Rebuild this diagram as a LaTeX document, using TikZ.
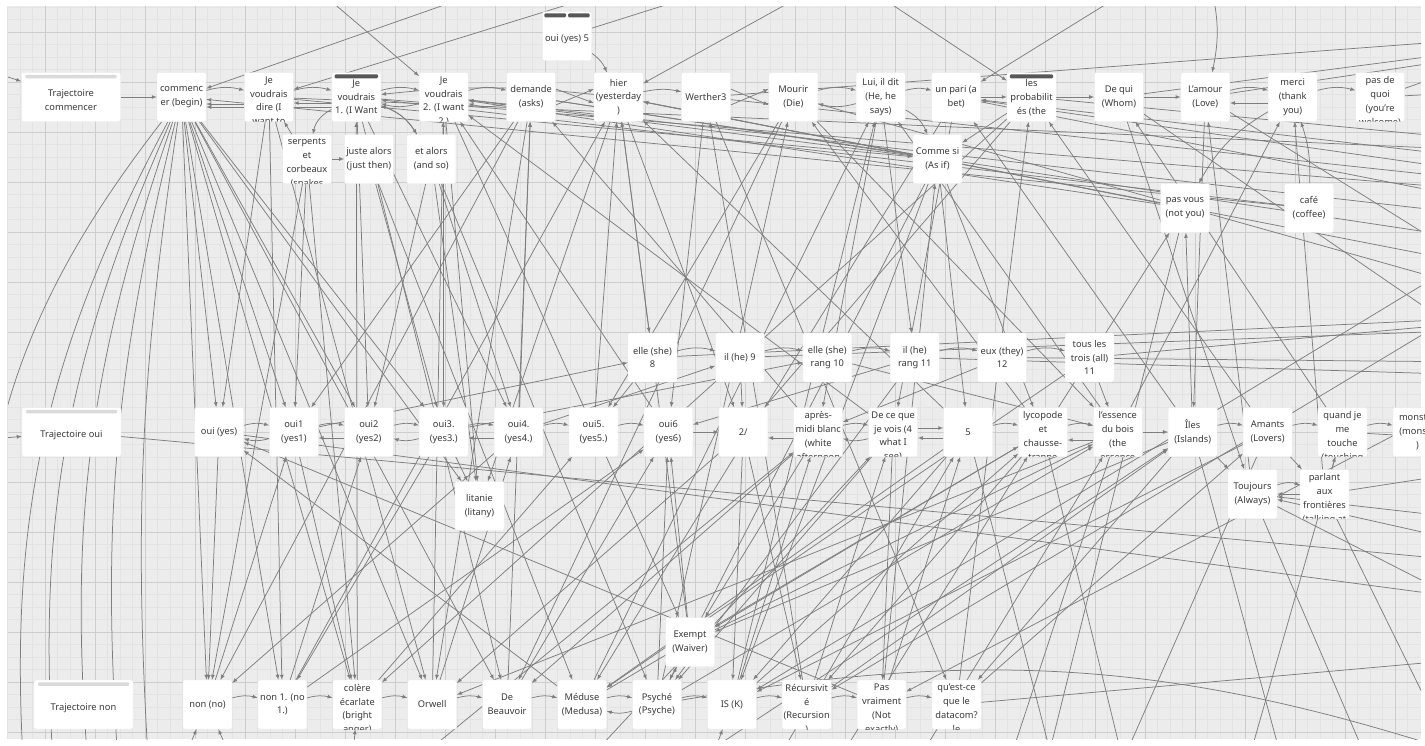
\documentclass[tikz,border=0pt]{standalone}
\usepackage{fontspec}
\setmainfont{Noto Sans}
\usetikzlibrary{arrows,shapes,positioning}
\definecolor{canvas}{HTML}{ECECEC}
\definecolor{gridmajor}{HTML}{CDCDCD}
\definecolor{gridminor}{HTML}{E3E3E3}
\definecolor{linkgray}{HTML}{7E7E7E}
\definecolor{textgray}{HTML}{3A3A3A}
\definecolor{tagdark}{HTML}{575757}
\definecolor{taglight}{HTML}{DADADA}
\pgfdeclarelayer{canvas}
\pgfdeclarelayer{links}
\pgfsetlayers{canvas,links,main}
\tikzstyle{link} = [draw=linkgray, line width=0.75pt, ->, >=latex]
\tikzstyle{psgtext} = [shape=rectangle, draw=none, fill=none, minimum width=0pt, minimum height=0pt, align=center, inner sep=0pt, text=textgray, font=\fontsize{9.3}{13.8}\selectfont]
\tikzstyle{box} = [rectangle, rounded corners=2pt, minimum width=49pt, minimum height=49pt, inner sep=0pt, draw=black!8, fill=white]
\tikzstyle{wide} = [minimum width=99pt]
\tikzstyle{tagbar} = [fill=tagdark, rounded corners=1.2pt]
\tikzstyle{lighttag} = [fill=taglight, rounded corners=1.2pt]
\tikzset{
  passage/.style={box, path picture={\node[psgtext, anchor=center] at (path picture bounding box.center) {#1};}},
  tagpsg/.style={box, path picture={\node[psgtext, anchor=center] at ([yshift=-3.5pt]path picture bounding box.center) {#1};}},
  longpsg/.style={box, path picture={\node[psgtext, anchor=north] at ([yshift=-4pt]path picture bounding box.north) {#1};}},
  taglong/.style={box, path picture={\node[psgtext, anchor=north] at ([yshift=-7pt]path picture bounding box.north) {#1};}}
}

\begin{document}
\begin{tikzpicture}[x=1pt, y=-1pt]
\useasboundingbox (0,0) rectangle (1425,745);

% free ends of links leaving the view
\coordinate (t1) at (318,-10);
\coordinate (t2) at (487,-10);
\coordinate (t3) at (615,-10);
\coordinate (t4) at (713,-10);
\coordinate (t5) at (812,-10);
\coordinate (t6) at (870,-10);
\coordinate (t7) at (1129,-10);
\coordinate (t8) at (1212,-10);
\coordinate (l1) at (-30,65);
\coordinate (l2) at (-30,441);
\coordinate (r1) at (1480,39);
\coordinate (r2) at (1480,50);
\coordinate (r3) at (1480,56);
\coordinate (r4) at (1480,62);
\coordinate (r5) at (1480,92);
\coordinate (r6) at (1480,150);
\coordinate (r7) at (1480,190);
\coordinate (r8) at (1480,215);
\coordinate (r9) at (1480,240);
\coordinate (r10) at (1480,265);
\coordinate (r11) at (1480,180);
\coordinate (r12) at (1480,290);
\coordinate (r13) at (1480,200);
\coordinate (r14) at (1480,140);
\coordinate (r15) at (1480,158);
\coordinate (r16) at (1480,172);
\coordinate (r17) at (1480,345);
\coordinate (r18) at (1480,268);
\coordinate (r19) at (1480,318);
\coordinate (r20) at (1480,330);
\coordinate (r21) at (1480,322);
\coordinate (r22) at (1480,362);
\coordinate (r23) at (1480,375);
\coordinate (r24) at (1480,562);
\coordinate (r25) at (1480,610);
\coordinate (r26) at (1480,470);
\coordinate (r27) at (1480,520);
\coordinate (r28) at (1480,545);
\coordinate (r29) at (1480,440);
\coordinate (r30) at (1480,600);
\coordinate (r31) at (1480,760);
\coordinate (r32) at (1480,658);
\coordinate (r33) at (1480,300);
\coordinate (r34) at (1480,390);
\coordinate (r35) at (1480,455);
\coordinate (r36) at (1480,250);
\coordinate (b1) at (1130,790);
\coordinate (b2) at (1000,790);
\coordinate (b3) at (1290,790);
\coordinate (b4) at (1110,790);
\coordinate (b5) at (1240,790);
\coordinate (b6) at (1380,790);
\coordinate (b7) at (1470,790);
\coordinate (b8) at (1060,790);
\coordinate (b10) at (1040,790);
\coordinate (b11) at (820,790);
\coordinate (b12) at (900,790);
\coordinate (b13) at (560,790);
\coordinate (b14) at (380,790);
\coordinate (b15) at (650,790);
\coordinate (b16) at (245,790);
\coordinate (b17) at (170,790);
\coordinate (b18) at (350,790);
\coordinate (b19) at (700,790);
\coordinate (b20) at (760,790);
\coordinate (f1) at (150,790);
\coordinate (f2) at (120,790);
\coordinate (f3) at (90,790);
\coordinate (f4) at (55,790);
\coordinate (f5) at (25,790);
\coordinate (f6) at (-25,640);

% passages, row "commencer"
\node (tcom) [tagpsg={Trajectoire\\commencer}, wide] at (71,97) {};
\node (cmc) [passage={commenc\\er (begin)}] at (181.5,97) {};
\node (jvd) [longpsg={Je\\voudrais\\dire (I\\want to}, right=38pt of cmc] {};
\node (jv1) [taglong={Je\\voudrais\\1. (I Want}, right=38pt of jvd] {};
\node (jv2) [longpsg={Je\\voudrais\\2. (I want\\2.)}, right=38pt of jv1] {};
\node (dmd) [passage={demande\\(asks)}, right=38pt of jv2] {};
\node (hier) [passage={hier\\(yesterday\\)}, right=38pt of dmd] {};
\node (wer) [passage={Werther3}, right=38pt of hier] {};
\node (mou) [passage={Mourir\\(Die)}, right=38pt of wer] {};
\node (lui) [passage={Lui, il dit\\(He, he\\says)}, right=38pt of mou] {};
\node (pari) [passage={un pari (a\\bet)}, right=26pt of lui] {};
\node (prob) [taglong={les\\probabilit\\és (the}, right=26pt of pari] {};
\node (dequi) [passage={De qui\\(Whom)}, right=38pt of prob] {};
\node (amour) [passage={L'amour\\(Love)}, right=37pt of dequi] {};
\node (merci) [passage={merci\\(thank\\you)}, right=38pt of amour] {};
\node (pdq) [longpsg={pas de\\quoi\\(you're\\welcome)}, right=38pt of merci] {};

\node (oui5) [tagpsg={oui (yes) 5}] at (567,36) {};
\node (spt) [longpsg={serpents\\et\\corbeaux\\(snakes}] at (307,159) {};
\node (juste) [passage={juste alors\\(just then)}, right=12.5pt of spt] {};
\node (etal) [passage={et alors\\(and so)}, right=13pt of juste] {};
\node (comme) [passage={Comme si\\(As if)}] at (937.5,159) {};
\node (pasv) [passage={pas vous\\(not you)}] at (1185,208) {};
\node (cafe) [passage={café\\(coffee)}] at (1309,208) {};

% middle row
\node (elle8) [passage={elle (she)\\8}] at (652.5,357.5) {};
\node (il9) [passage={il (he) 9}, right=38pt of elle8] {};
\node (elle10) [passage={elle (she)\\rang 10}, right=38pt of il9] {};
\node (il11) [passage={il (he)\\rang 11}, right=38pt of elle10] {};
\node (eux12) [passage={eux (they)\\12}, right=38pt of il11] {};
\node (tous) [passage={tous les\\trois (all)\\11}, right=38pt of eux12] {};

% row "oui"
\node (toui) [tagpsg={Trajectoire oui}, wide] at (71.5,432) {};
\node (oui) [passage={oui (yes)}] at (219,432) {};
\node (oui1) [passage={oui1\\(yes1)}, right=25.5pt of oui] {};
\node (oui2) [passage={oui2\\(yes2)}, right=25.5pt of oui1] {};
\node (oui3) [passage={oui3.\\(yes3.)}, right=25.5pt of oui2] {};
\node (oui4) [passage={oui4.\\(yes4.)}, right=25.5pt of oui3] {};
\node (ouiv) [passage={oui5.\\(yes5.)}, right=25.5pt of oui4] {};
\node (oui6) [passage={oui6\\(yes6)}, right=25.5pt of ouiv] {};
\node (deux) [passage={2/}, right=25.5pt of oui6] {};
\node (apres) [longpsg={après-\\midi blanc\\(white\\afternoon}, right=25.5pt of deux] {};
\node (dece) [longpsg={De ce que\\je vois (4\\what I\\see)}, right=25.5pt of apres] {};
\node (cinq) [passage={5}, right=25.5pt of dece] {};
\node (lyco) [longpsg={lycopode\\et\\chausse-\\trappe}, right=25.5pt of cinq] {};
\node (ess) [longpsg={l'essence\\du bois\\(the\\essence}, right=25.5pt of lyco] {};
\node (iles) [passage={Îles\\(Islands)}, right=25.5pt of ess] {};
\node (amants) [passage={Amants\\(Lovers)}, right=25.5pt of iles] {};
\node (quand) [longpsg={quand je\\me\\touche\\(touching}, right=25.5pt of amants] {};
\node (monstre) [passage={monstre\\(monste\\)}, right=25.5pt of quand] {};

\node (litanie) [passage={litanie\\(litany)}] at (479.5,506) {};
\node (toujours) [passage={Toujours\\(Always)}] at (1252.5,494) {};
\node (parlant) [longpsg={parlant\\aux\\frontières\\(talking at}] at (1324.5,494) {};
\node (exempt) [passage={Exempt\\(Waiver)}] at (690,642) {};

% row "non"
\node (tnon) [tagpsg={Trajectoire non}, wide] at (83.5,704.5) {};
\node (non) [passage={non (no)}] at (207.5,704.5) {};
\node (non1) [passage={non 1. (no\\1.)}, right=25.5pt of non] {};
\node (colere) [longpsg={colère\\écarlate\\(bright\\anger)}, right=25.5pt of non1] {};
\node (orwell) [passage={Orwell}, right=25.5pt of colere] {};
\node (beau) [passage={De\\Beauvoir}, right=25.5pt of orwell] {};
\node (meduse) [passage={Méduse\\(Medusa)}, right=25.5pt of beau] {};
\node (psyche) [passage={Psyché\\(Psyche)}, right=25.5pt of meduse] {};
\node (isk) [passage={IS (K)}, right=25.5pt of psyche] {};
\node (recu) [longpsg={Récursivit\\é\\(Recursion\\)}, right=25.5pt of isk] {};
\node (pasvr) [longpsg={Pas\\vraiment\\(Not\\exactly)}, right=25.5pt of recu] {};
\node (quest) [longpsg={qu'est-ce\\que le\\datacom?\\le}, right=25.5pt of pasvr] {};

% tags
\fill [lighttag] ([xshift=4pt,yshift=-2.5pt]tcom.north west) rectangle ([xshift=-4pt,yshift=-6pt]tcom.north east);
\fill [lighttag] ([xshift=4pt,yshift=-2.5pt]toui.north west) rectangle ([xshift=-4pt,yshift=-6pt]toui.north east);
\fill [lighttag] ([xshift=4pt,yshift=-2.5pt]tnon.north west) rectangle ([xshift=-4pt,yshift=-6pt]tnon.north east);
\fill [tagbar] ([xshift=3pt,yshift=-2pt]jv1.north west) rectangle ([xshift=-3pt,yshift=-6pt]jv1.north east);
\fill [tagbar] ([xshift=3pt,yshift=-2pt]prob.north west) rectangle ([xshift=-3pt,yshift=-6pt]prob.north east);
\fill [tagbar] ([xshift=2pt,yshift=-2pt]oui5.north west) rectangle ([xshift=-1pt,yshift=-6pt]oui5.north);
\fill [tagbar] ([xshift=1pt,yshift=-2pt]oui5.north) rectangle ([xshift=-2pt,yshift=-6pt]oui5.north east);

% grid
\begin{pgfonlayer}{canvas}
\fill [white] (0,0) rectangle (1425,745);
\fill [canvas] (8,6) rectangle (1421,739);
\foreach \gx in {0,...,113} \draw [gridminor, line width=0.5pt] ({-5+12.5*\gx},6) -- ({-5+12.5*\gx},739);
\foreach \gy in {0,...,58} \draw [gridminor, line width=0.5pt] (8,{7+12.5*\gy}) -- (1421,{7+12.5*\gy});
\foreach \gx in {0,...,27} \draw [gridmajor, line width=0.6pt] ({45+50*\gx},6) -- ({45+50*\gx},739);
\foreach \gy in {0,...,14} \draw [gridmajor, line width=0.6pt] (8,{32+50*\gy}) -- (1421,{32+50*\gy});
\end{pgfonlayer}

\begin{pgfonlayer}{links}
\begin{scope}
\clip (8,6) rectangle (1421,739);
% top and left ends
\draw [link] (t1) -- (jv2);
\draw [link] (t2) -- (cmc);
\draw [link] (t3) -- (jvd);
\draw [link] (oui5) -- (t4);
\draw [link] (t5) -- (hier);
\draw [link] (t6) -- (prob);
\draw [link] (t7) -- (pari);
\draw [link] (t8) to[bend left=12] (amour);
\draw [link] (l1) -- (tcom);
\draw [link] (l2) -- (toui);
\draw [link] (tcom) -- (cmc);
\draw [link] (oui5) to[bend left=15] (hier);
\draw [link] (hier) to[bend right=6] (jv1);
\draw [link] (wer) -- (r1);
\draw [link] (dequi) -- (r2);
\draw [link] (amour) -- (r3);
\draw [link] (pdq) -- (r4);

% row commencer
\draw [link] (cmc) to[bend left=15] (jvd);
\draw [link] ([yshift=-7pt]jvd.west) -- ([yshift=-7pt]cmc.east);
\draw [link] ([yshift=-10pt]jv1.west) -- ([yshift=-10pt]cmc.east);
\draw [link] (jvd) to[bend left=15] (jv1);
\draw [link] ([yshift=-6pt]jv1.west) -- ([yshift=-6pt]jvd.east);
\draw [link] (jv1) to[bend left=15] (jv2);
\draw [link] (jv2) to[bend left=15] (jv1);
\draw [link] (jv2) to[bend left=15] (dmd);
\draw [link] (dmd) to[bend left=15] (jv2);
\draw [link] ([yshift=8pt]dmd.east) -- ([yshift=-6pt]hier.west);
\draw [link] ([yshift=-8pt]dmd.east) -- ([yshift=8pt]hier.west);
\draw [link] (hier) to[bend left=12] (wer);
\draw [link] ([yshift=8pt]wer.east) -- ([yshift=-8pt]mou.west);
\draw [link] ([yshift=-8pt]wer.east) -- ([yshift=8pt]mou.west);
\draw [link] (mou) to[bend left=15] (lui);
\draw [link] (lui) to[bend left=15] (mou);
\draw [link] (lui) to[bend left=15] (pari);
\draw [link] (pari) -- (prob);
\draw [link] (prob) -- (dequi);
\draw [link] (dequi) -- (amour);
\draw [link] (amour) to[bend left=15] (merci);
\draw [link] ([yshift=-6pt]merci.west) -- ([yshift=-6pt]amour.east);
\draw [link] (merci) to[bend left=15] (pdq);
\draw [link] (pdq) -- (r5);

% long links across the top band
\draw [link] (comme) -- (jv2);
\draw [link] (comme) -- (hier);
\draw [link] (jvd) -- (comme);
\draw [link] (dmd) -- (comme);
\draw [link] (pasv) -- (hier);
\draw [link] (pasv) -- (jv2);
\draw [link] (cafe) -- (jv1);
\draw [link] (cafe) -- (cmc);
\draw [link] (jvd) -- (r6);
\draw [link] (jv1) -- (r7);
\draw [link] (jv2) -- (r8);
\draw [link] (dmd) -- (r9);
\draw [link] (hier) -- (r10);
\draw [link] (wer) -- (r11);
\draw [link] (mou) -- (r12);
\draw [link] (pari) -- (r13);
\draw [link] (prob) -- (r14);
\draw [link] (r15) -- (pari);
\draw [link] (r16) -- (pari);
\draw [link] (dequi) -- (r17);
\draw [link] (amour) -- (r18);

% small passages under the top row
\draw [link] (jv1) to[bend right=25] (spt);
\draw [link] (spt) -- (jvd);
\draw [link] (spt) -- (juste);
\draw [link] (jv1) to[bend left=20] (etal);
\draw [link] (etal) to[bend right=20] (jv1);
\draw [link] (lui) to[bend left=20] (comme);
\draw [link] (prob) -- (comme);
\draw [link] (merci) to[bend right=15] (pasv);
\draw [link] (cafe) to[bend right=10] (merci);
\draw [link] (ess) -- (merci);
\draw [link] (lyco) -- (pasv);
\draw [link] (iles) -- (pasv);
\draw [link] (pasv) -- (b10);

% commencer fan
\draw [link] (cmc) -- (oui);
\draw [link] (cmc) -- (oui1);
\draw [link] (cmc) -- (oui2);
\draw [link] (cmc) -- (oui3);
\draw [link] (cmc) -- (litanie);
\draw [link] (cmc) -- (non);
\draw [link] (cmc) -- (non1);
\draw [link] (cmc) -- (colere);
\draw [link] (cmc) -- (orwell);
\draw [link] (cmc) -- (beau);
\draw [link] (cmc) to[bend right=6] (f1);
\draw [link] (cmc) to[bend right=9] (f2);
\draw [link] (cmc) to[bend right=12] (f3);
\draw [link] (cmc) to[bend right=14] (f4);
\draw [link] (cmc) to[bend right=16] (f5);
\draw [link] (cmc) to[bend right=18] (f6);

% top row down to the lower rows
\draw [link] (jvd) -- (oui);
\draw [link] (jvd) -- (non1);
\draw [link] (jvd) -- (orwell);
\draw [link] (jv1) -- (oui2);
\draw [link] (jv1) -- (oui4);
\draw [link] (jv1) -- (beau);
\draw [link] (spt) -- (oui1);
\draw [link] (spt) -- (non);
\draw [link] (spt) -- (colere);
\draw [link] (juste) -- (oui3);
\draw [link] (juste) -- (meduse);
\draw [link] (etal) -- (oui2);
\draw [link] (etal) -- (oui4);
\draw [link] (etal) -- (psyche);
\draw [link] (etal) -- (litanie);
\draw [link] (jv2) -- (oui3);
\draw [link] (jv2) -- (litanie);
\draw [link] (jv2) -- (exempt);
\draw [link] (dmd) -- (non);
\draw [link] (dmd) -- (oui1);
\draw [link] (dmd) -- (orwell);
\draw [link] (hier) -- (deux);
\draw [link] (non1) -- (hier);
\draw [link] (hier) -- (litanie);
\draw [link] (hier) -- (elle8);
\draw [link] (wer) -- (quest);
\draw [link] (wer) -- (oui6);
\draw [link] (mou) -- (beau);
\draw [link] (mou) -- (ouiv);
\draw [link] (mou) -- (ess);
\draw [link] (meduse) -- (lui);
\draw [link] (lui) -- (apres);
\draw [link] (lui) -- (il11);
\draw [link] (comme) -- (cinq);
\draw [link] (comme) -- (psyche);
\draw [link] (comme) -- (lyco);
\draw [link] (comme) -- (isk);
\draw [link] (pari) -- (dece);
\draw [link] (pari) -- (meduse);
\draw [link] (prob) -- (colere);
\draw [link] (prob) -- (deux);
\draw [link] (amour) -- (iles);
\draw [link] (dequi) -- (toujours);

% lower rows up to the top row
\draw [link] (orwell) -- (jv2);
\draw [link] (beau) -- (dmd);
\draw [link] (colere) -- (jv1);
\draw [link] (psyche) -- (mou);
\draw [link] (isk) -- (lui);
\draw [link] (recu) -- (wer);
\draw [link] (pasvr) -- (comme);
\draw [link] (quest) -- (prob);
\draw [link] (exempt) -- (hier);
\draw [link] (oui6) -- (jv2);
\draw [link] (lyco) -- (mou);
\draw [link] (ess) -- (lui);
\draw [link] (cinq) -- (hier);
\draw [link] (iles) -- (pari);
\draw [link] (dece) -- (jv2);
\draw [link] (apres) -- (dmd);
\draw [link] (oui4) -- (dmd);
\draw [link] (ouiv) -- (hier);
\draw [link] (amants) -- (prob);
\draw [link] (quand) -- (dequi);
\draw [link] (toujours) -- (amour);
\draw [link] (parlant) -- (merci);

% middle row
\draw [link] (elle8) to[bend left=15] (il9);
\draw [link] (il9) to[bend left=15] (elle10);
\draw [link] (elle10) to[bend left=15] (il11);
\draw [link] (il11) to[bend left=15] (eux12);
\draw [link] (eux12) to[bend left=15] (tous);
\draw [link] (elle8) -- (r19);
\draw [link] (il9) -- (r20);
\draw [link] (tous) -- (r21);
\draw [link] (eux12) -- (r22);
\draw [link] (il11) -- (r23);
\draw [link] (oui3) -- (elle10);
\draw [link] (oui4) -- (il9);
\draw [link] (oui1) -- (elle8);
\draw [link] (il9) -- (deux);
\draw [link] (elle10) -- (ess);
\draw [link] (il11) -- (oui6);
\draw [link] (tous) -- (ess);
\draw [link] (elle8) -- (ouiv);
\draw [link] (eux12) -- (apres);
\draw [link] (tous) -- (meduse);
\draw [link] (il11) -- (psyche);

% row oui
\draw [link] (toui) -- (r24);
\draw [link] (oui) to[bend left=15] (oui1);
\draw [link] (oui1) to[bend left=15] (oui);
\draw [link] (oui1) to[bend left=15] (oui2);
\draw [link] ([yshift=-6pt]oui2.west) -- ([yshift=-6pt]oui1.east);
\draw [link] (oui2) to[bend left=15] (oui3);
\draw [link] (oui3) to[bend left=15] (oui2);
\draw [link] (oui3) to[bend left=15] (oui4);
\draw [link] ([yshift=-6pt]oui4.west) -- ([yshift=-6pt]oui3.east);
\draw [link] (oui4) to[bend left=15] (ouiv);
\draw [link] (ouiv) to[bend left=15] (oui6);
\draw [link] (oui6) -- (deux);
\draw [link] ([yshift=-6pt]apres.west) -- ([yshift=-6pt]deux.east);
\draw [link] (apres) to[bend left=15] (dece);
\draw [link] (dece) to[bend left=15] (apres);
\draw [link] ([yshift=-6pt]cinq.west) -- ([yshift=-6pt]dece.east);
\draw [link] ([yshift=4pt]dece.east) -- ([yshift=4pt]cinq.west);
\draw [link] (cinq) to[bend left=15] (lyco);
\draw [link] (lyco) to[bend left=15] (ess);
\draw [link] ([yshift=-8pt]ess.west) -- ([yshift=-8pt]lyco.east);
\draw [link] (ess) -- (iles);
\draw [link] (iles) to[bend left=15] (amants);
\draw [link] (amants) to[bend left=15] (quand);
\draw [link] (quand) to[bend left=15] (monstre);
\draw [link] (oui3) -- (litanie);
\draw [link] (iles) -- (toujours);
\draw [link] (toujours) to[bend left=20] (parlant);
\draw [link] (parlant) -- (toujours);
\draw [link] (parlant) -- (quand);
\draw [link] (amants) -- (parlant);
\draw [link] (toujours) -- (r25);
\draw [link] (parlant) -- (r26);
\draw [link] (r27) -- (toujours);
\draw [link] (r28) -- (toujours);
\draw [link] (quand) -- (r29);
\draw [link] (oui) -- (r30);
\draw [link] (monstre) -- (r35);

% row oui to row non
\draw [link] (oui) -- (non);
\draw [link] (meduse) -- (oui);
\draw [link] (pasvr) -- (oui);
\draw [link] (non) -- (oui1);
\draw [link] (non1) -- (oui2);
\draw [link] (orwell) -- (oui4);
\draw [link] (beau) -- (oui6);
\draw [link] (psyche) -- (oui6);
\draw [link] (exempt) -- (oui6);
\draw [link] (isk) -- (apres);
\draw [link] (recu) -- (dece);
\draw [link] (oui1) -- (colere);
\draw [link] (oui3) -- (non1);
\draw [link] (oui4) -- (non);
\draw [link] (colere) -- (ouiv);
\draw [link] (non1) -- (oui6);
\draw [link] (deux) -- (isk);
\draw [link] (deux) -- (orwell);
\draw [link] (deux) -- (recu);
\draw [link] (apres) -- (beau);
\draw [link] (apres) -- (exempt);
\draw [link] (dece) -- (psyche);
\draw [link] (dece) -- (pasvr);
\draw [link] (cinq) -- (meduse);
\draw [link] (cinq) -- (isk);
\draw [link] (lyco) -- (exempt);
\draw [link] (lyco) -- (recu);
\draw [link] (psyche) -- (ess);
\draw [link] (exempt) -- (ess);
\draw [link] (ess) -- (orwell);
\draw [link] (iles) -- (quest);
\draw [link] (iles) -- (exempt);
\draw [link] (amants) -- (isk);
\draw [link] (isk) -- (lyco);
\draw [link] (meduse) -- (lyco);
\draw [link] (recu) -- (iles);
\draw [link] (pasvr) -- (cinq);
\draw [link] (quest) -- (amants);
\draw [link] (psyche) -- (exempt);

% row non
\draw [link] (non) to[bend left=15] (non1);
\draw [link] (non1) to[bend left=15] (colere);
\draw [link] (colere) to[bend left=15] (orwell);
\draw [link] (orwell) to[bend left=15] (beau);
\draw [link] (beau) to[bend left=15] (meduse);
\draw [link] (meduse) to[bend left=15] (psyche);
\draw [link] (psyche) to[bend left=15] (meduse);
\draw [link] (psyche) to[bend left=15] (isk);
\draw [link] (isk) to[bend left=15] (recu);
\draw [link] (recu) to[bend left=15] (pasvr);
\draw [link] (pasvr) to[bend left=15] (quest);
\draw [link] (psyche) to[bend left=14] (r31);
\draw [link] (quest) -- (r32);
\draw [link] (r33) -- (recu);
\draw [link] (r34) -- (pasvr);
\draw [link] (r36) -- (isk);

% bottom ends
\draw [link] (lyco) -- (b1);
\draw [link] (ess) -- (b2);
\draw [link] (iles) -- (b3);
\draw [link] (amants) -- (b4);
\draw [link] (quand) -- (b5);
\draw [link] (toujours) -- (b6);
\draw [link] (parlant) -- (b7);
\draw [link] (cinq) -- (b8);
\draw [link] (b11) -- (lyco);
\draw [link] (b12) -- (ess);
\draw [link] (b13) -- (dece);
\draw [link] (b14) -- (apres);
\draw [link] (b15) -- (iles);
\draw [link] (b16) -- (non);
\draw [link] (b17) -- (non);
\draw [link] (b18) -- (colere);
\draw [link] (b19) -- (isk);
\draw [link] (b20) -- (cinq);
\end{scope}
\end{pgfonlayer}

\end{tikzpicture}
\end{document}
